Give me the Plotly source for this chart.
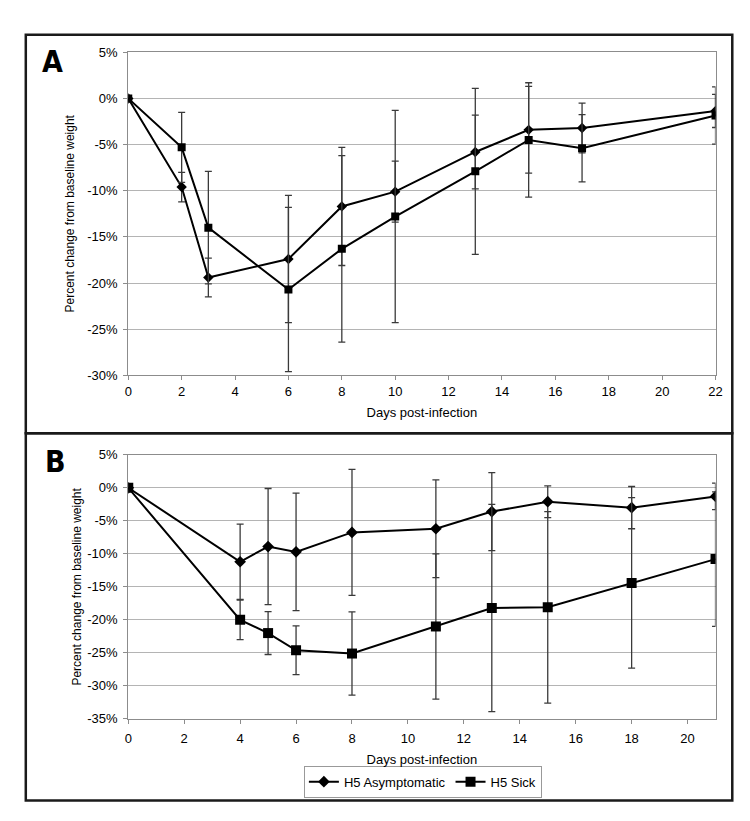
import plotly.graph_objects as go

# ---------------- data ----------------
days_a = [0, 2, 3, 6, 8, 10, 13, 15, 17, 22]
asym_a = [0, -9.6, -19.4, -17.4, -11.7, -10.1, -5.8, -3.4, -3.2, -1.35]
asym_a_err = [0, 1.6, 2.1, 6.9, 6.4, 3.3, 4.0, 4.7, 2.7, 1.8]
sick_a = [0, -5.3, -14.0, -20.7, -16.3, -12.8, -7.9, -4.5, -5.4, -1.85]
sick_a_err = [0, 3.8, 6.1, 8.9, 10.1, 11.5, 9.0, 6.2, 3.65, 3.1]

days_b = [0, 4, 5, 6, 8, 11, 13, 15, 18, 21]
asym_b = [0, -11.2, -8.9, -9.7, -6.75, -6.2, -3.6, -2.1, -3.0, -1.3]
asym_b_err = [0, 5.7, 8.8, 8.9, 9.55, 7.4, 5.9, 2.4, 3.2, 2.0]
sick_b = [0, -20.0, -22.0, -24.6, -25.1, -21.0, -18.2, -18.1, -14.4, -10.8]
sick_b_err = [0, 3.0, 3.25, 3.7, 6.3, 11.0, 15.7, 14.5, 12.9, 10.2]

yticks_a = [5, 0, -5, -10, -15, -20, -25, -30]
yticks_b = [5, 0, -5, -10, -15, -20, -25, -30, -35]
xticks_a = list(range(0, 23, 2))
xticks_b = list(range(0, 21, 2))

name_asym = "H5 Asymptomatic"
name_sick = "H5 Sick"
x_title = "Days post-infection"
y_title = "Percent change from baseline weight"

# ---------------- figure ----------------
W, H = 750, 821
FONT = "Liberation Sans, Arial, sans-serif"
GRID = "#b4b4b4"
AXC = "#8c8c8c"
ERRC = "#3a3a3a"

def px(x):
    return x / W

def py(y):
    return 1 - y / H

fig = go.Figure()

def add_series(xs, ys, errs, name, symbol, msize, xa, ya, show):
    fig.add_trace(go.Scatter(
        x=xs, y=ys, name=name, mode="lines+markers",
        line=dict(color="black", width=2),
        marker=dict(symbol=symbol, size=msize, color="black"),
        error_y=dict(type="data", array=errs, visible=True,
                     color=ERRC, thickness=1.3, width=3.5),
        xaxis=xa, yaxis=ya, showlegend=show,
        legendgroup=name,
    ))

add_series(days_a, asym_a, asym_a_err, name_asym, "diamond", 8, "x", "y", False)
add_series(days_a, sick_a, sick_a_err, name_sick, "square", 8, "x", "y", False)
add_series(days_b, asym_b, asym_b_err, name_asym, "diamond", 9, "x2", "y2", True)
add_series(days_b, sick_b, sick_b_err, name_sick, "square", 10, "x2", "y2", True)

tickfont = dict(family=FONT, size=13, color="black")
xtitlefont = dict(family=FONT, size=13, color="black")
ytitlefont = dict(family=FONT, size=12, color="black")

common_x = dict(showgrid=False, showline=True, linecolor=AXC, linewidth=1.3,
                mirror=True, ticks="outside", ticklen=4, tickcolor=AXC,
                tickfont=tickfont, zeroline=False)
common_y = dict(showgrid=True, gridcolor=GRID, gridwidth=1.2, showline=True,
                linecolor=AXC, linewidth=1.3, mirror=True, ticks="outside",
                ticklen=4, tickcolor=AXC, tickfont=tickfont, zeroline=False)

fig.update_layout(
    width=W, height=H,
    margin=dict(l=0, r=0, t=0, b=0),
    paper_bgcolor="white", plot_bgcolor="white",
    font=dict(family=FONT, size=13, color="black"),
    xaxis=dict(domain=[px(118), px(714)], range=[0, 22], anchor="y",
               tickvals=xticks_a, ticktext=[str(v) for v in xticks_a],
               title=dict(text=x_title, font=xtitlefont, standoff=9),
               **common_x),
    yaxis=dict(domain=[py(367), py(38)], range=[-30, 5], anchor="x",
               tickvals=yticks_a, ticktext=[f"{v}%" for v in yticks_a],
               title=dict(text=y_title, font=ytitlefont, standoff=9),
               ticklabelstandoff=3,
               **common_y),
    xaxis2=dict(domain=[px(118), px(714)], range=[0, 21], anchor="y2",
                tickvals=xticks_b, ticktext=[str(v) for v in xticks_b],
                title=dict(text=x_title, font=xtitlefont, standoff=10),
                ticklabelstandoff=3,
                **common_x),
    yaxis2=dict(domain=[py(717), py(448)], range=[-35, 5], anchor="x2",
                tickvals=yticks_b, ticktext=[f"{v}%" for v in yticks_b],
                title=dict(text=y_title, font=ytitlefont, standoff=2),
                ticklabelstandoff=3,
                **common_y),
    legend=dict(orientation="h", x=px(417), xanchor="center",
                y=py(781), yanchor="middle",
                bordercolor="#999999", borderwidth=1,
                font=dict(family=FONT, size=13, color="black"),
                itemwidth=30, tracegroupgap=0),
)

# panel frames
for (x0, y0, x1, y1) in [(14, 20, 731, 426), (14, 426, 731, 800)]:
    fig.add_shape(type="rect", xref="paper", yref="paper",
                  x0=px(x0), x1=px(x1), y0=py(y1), y1=py(y0),
                  line=dict(color="#1a1a1a", width=2.5), fillcolor="rgba(0,0,0,0)")

LABEL_FONT = "Liberation Sans Narrow, DejaVu Sans Condensed, Arial Narrow, sans-serif"
for text, xx, yy in [("A", 41, 47), ("B", 44, 455)]:
    fig.add_annotation(text=f"<b>{text}</b>", xref="paper", yref="paper",
                       x=px(xx), y=py(yy), xanchor="center", yanchor="middle",
                       showarrow=False,
                       font=dict(family=LABEL_FONT, size=30, color="black"))

fig.write_html("out.html")
